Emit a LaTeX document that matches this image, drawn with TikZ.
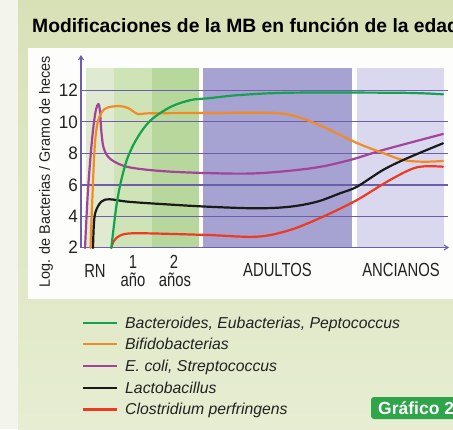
\documentclass[tikz,border=0pt]{standalone}
\usepackage{fontspec}
\setmainfont{Liberation Sans}
\usetikzlibrary{arrows.meta}
\definecolor{bgtop}{HTML}{D8E1B6}
\definecolor{bgbot}{HTML}{E6EDD2}
\definecolor{bgleft}{HTML}{F3F5EC}
\definecolor{panel}{HTML}{FDFDFB}
\definecolor{bandA}{HTML}{DFEAD0}
\definecolor{bandB}{HTML}{CFE4B6}
\definecolor{bandC}{HTML}{B8D79C}
\definecolor{bandD}{HTML}{A6A2D1}
\definecolor{bandE}{HTML}{DAD8EE}
\definecolor{gridc}{HTML}{6B5FAB}
\definecolor{cgreen}{HTML}{14A24C}
\definecolor{corange}{HTML}{F28A26}
\definecolor{cpurple}{HTML}{A3449B}
\definecolor{cblack}{HTML}{1A1A1A}
\definecolor{cred}{HTML}{EE3A23}
\definecolor{txt}{HTML}{222222}
\definecolor{badge}{HTML}{2FA54A}
\tikzset{
  gridline/.style={draw=gridc, line width=1.1pt},
  axisline/.style={draw=gridc, line width=1.1pt, -{Straight Barb[length=4pt,width=5pt]}},
  curve/.style={line width=2.2pt, line cap=round, line join=round},
  ticklab/.style={anchor=east, text=txt, font=\fontsize{18}{20}\selectfont, inner sep=0pt},
  xlab/.style={anchor=base, text=txt, font=\fontsize{19}{21}\selectfont, inner sep=0pt},
  legline/.style={line width=2.4pt},
  legtext/.style={anchor=base west, text=txt, font=\itshape\fontsize{15.8}{17}\selectfont, inner sep=0pt},
}
\newcommand{\nx}[1]{\scalebox{0.78}[1]{#1}}
\begin{document}
\begin{tikzpicture}[x=1pt,y=-1pt]
\useasboundingbox (0,0) rectangle (453,429);
\clip (0,0) rectangle (453,429);
% background
\fill[bgleft] (0,0) rectangle (18,429);
\shade[top color=bgtop, bottom color=bgbot] (18,0) rectangle (453,429);
\fill[panel] (28,48) rectangle (460,299);
% title
\node[anchor=base west, inner sep=0pt, text=black, font=\bfseries\fontsize{19.3}{21}\selectfont] (title) at (32,32) {Modificaciones de la MB en función de la edad};
% bands
\fill[bandA] (86,68) rectangle (114,247);
\fill[bandB] (114,68) rectangle (152,247);
\fill[bandC] (152,68) rectangle (199,247);
\fill[bandD] (203,68) rectangle (352,247);
\fill[bandE] (357,68) rectangle (444,247);
% grid
\foreach \yy in {90.7,121.9,153.3,185,216.7} {\draw[gridline] (81,\yy) -- (448,\yy);}
\coordinate (org) at (81,247.5);
\coordinate (ytop) at (81,55);
\coordinate (xend) at (449,247.5);
\draw[axisline] (org) -- (ytop);
\draw[axisline] (org) -- (xend);
% tick labels
\node[ticklab] (t12) at (78,90.7) {\scalebox{0.95}[1]{12}};
\node[ticklab] (t10) at (78,121.9) {\scalebox{0.95}[1]{10}};
\node[ticklab] (t8) at (78,153.3) {\scalebox{0.95}[1]{8}};
\node[ticklab] (t6) at (78,185) {\scalebox{0.95}[1]{6}};
\node[ticklab] (t4) at (78,216.7) {\scalebox{0.95}[1]{4}};
\node[ticklab] (t2) at (78,247.5) {\scalebox{0.95}[1]{2}};
% y label
\node[rotate=90, text=txt, font=\fontsize{15}{17}\selectfont, inner sep=0pt] (ylab) at (46,172) {\scalebox{0.96}[1]{Log. de Bacterias / Gramo de heces}};
% x labels
\node[xlab] (rn) at (95,277) {\nx{RN}};
\node[xlab] (one) at (133,268) {\nx{1}};
\node[xlab] (ano) at (133,286) {\nx{año}};
\node[xlab] (two) at (174,268) {\nx{2}};
\node[xlab] (anos) at (175,286) {\nx{años}};
\node[xlab] (adultos) at (277.5,276.7) {\nx{ADULTOS}};
\node[xlab] (ancianos) at (401,276.7) {\nx{ANCIANOS}};
% curves
\draw[curve, cpurple] plot[smooth, tension=0.55] coordinates {(85,248) (88,190) (92,140) (95.5,112) (98.5,104) (100,112) (101.5,133) (104,149) (111,159.5) (128,167) (161,171) (205,173) (257,173.3) (313,168) (350,160) (383,150) (443,134)};
\draw[curve, corange] plot[smooth, tension=0.55] coordinates {(90.5,248) (92.3,200) (94.7,147) (98,121) (104.7,109) (118,106) (128,108) (138,114) (150,113.3) (208,113) (273,113) (297,116.7) (323,126.7) (357,143) (383,153) (403,160) (423,161.7) (443,161)};
\draw[curve, cblack] plot[smooth, tension=0.55] coordinates {(93,248) (93.8,226) (95.5,212) (101.3,201.7) (109.7,199.3) (128,201.7) (161,204) (208,206.7) (257,208.3) (290,206.7) (317,201.7) (340,193.3) (357,186.7) (383,170) (407,158.3) (443,143.3)};
\draw[curve, cred] plot[smooth, tension=0.55] coordinates {(111.3,248) (113.5,241.5) (116.3,238) (124.7,234) (144.7,233.3) (208,235) (257,236.7) (290,230) (323,216.7) (357,200) (390,180) (417,167.3) (443,166.7)};
\draw[curve, cgreen] plot[smooth, tension=0.55] coordinates {(111.3,248) (116.3,206.7) (121.3,180) (128,156.7) (138,136.7) (151,120) (171,106.7) (191,100) (208,98.3) (240,95) (290,92.7) (390,92.7) (423,93.3) (443,94.3)};
% legend
\coordinate (l1a) at (83,322.7); \coordinate (l1b) at (117,322.7);
\coordinate (l2a) at (83,344.2); \coordinate (l2b) at (117,344.2);
\coordinate (l3a) at (83,366); \coordinate (l3b) at (117,366);
\coordinate (l4a) at (83,388); \coordinate (l4b) at (117,388);
\coordinate (l5a) at (83,409.3); \coordinate (l5b) at (117,409.3);
\draw[legline, cgreen] (l1a) -- (l1b);
\draw[legline, corange] (l2a) -- (l2b);
\draw[legline, cpurple] (l3a) -- (l3b);
\draw[legline, cblack] (l4a) -- (l4b);
\draw[legline, cred] (l5a) -- (l5b);
\node[legtext] (lt1) at (125,328.3) {Bacteroides, Eubacterias, Peptococcus};
\node[legtext] (lt2) at (125,349.8) {Bifidobacterias};
\node[legtext] (lt3) at (125,371.6) {E. coli, Streptococcus};
\node[legtext] (lt4) at (125,393.6) {Lactobacillus};
\node[legtext] (lt5) at (125,414.9) {Clostridium perfringens};
% badge
\fill[badge, rounded corners=3pt] (371,397) rectangle (470,419);
\node[anchor=base west, inner sep=0pt, text=white, font=\bfseries\fontsize{17.5}{19}\selectfont] (badge) at (378,414.8) {Gráfico 2};
\end{tikzpicture}
\end{document}
